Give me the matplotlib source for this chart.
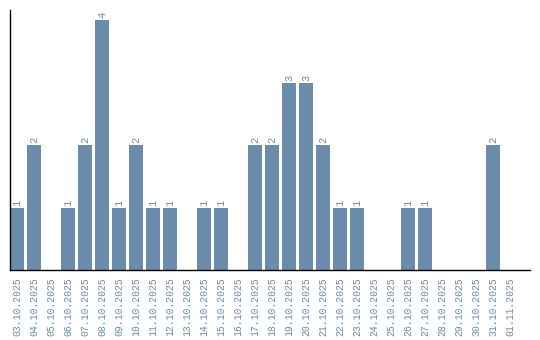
import numpy as np
import matplotlib
matplotlib.use('Agg')
import matplotlib.pyplot as plt

dates = ['03.10.2025', '04.10.2025', '05.10.2025', '06.10.2025', '07.10.2025',
         '08.10.2025', '09.10.2025', '10.10.2025', '11.10.2025', '12.10.2025',
         '13.10.2025', '14.10.2025', '15.10.2025', '16.10.2025', '17.10.2025',
         '18.10.2025', '19.10.2025', '20.10.2025', '21.10.2025', '22.10.2025',
         '23.10.2025', '24.10.2025', '25.10.2025', '26.10.2025', '27.10.2025',
         '28.10.2025', '29.10.2025', '30.10.2025', '31.10.2025', '01.11.2025']
counts = [1, 2, 0, 1, 2, 4, 1, 2, 1, 1,
          0, 1, 1, 0, 2, 2, 3, 3, 2, 1,
          1, 0, 0, 1, 1, 0, 0, 0, 2, 0]

color = '#6b8cab'
plt.rcParams['font.family'] = ['Liberation Mono', 'DejaVu Sans Mono']

fig = plt.figure(figsize=(5.4, 3.4), dpi=100)
ax = fig.add_axes([10 / 540, 1 - 270 / 340, 520 / 540, 260 / 340])

x = np.arange(len(dates))
ax.bar(x, counts, width=0.82, color=color)
for xi, c in zip(x, counts):
    if c > 0:
        ax.text(xi, c + 0.03, str(c), rotation=90, ha='center', va='bottom',
                fontsize=7.5, color=color)

ax.set_xlim(-0.41, 30.18)
ax.set_ylim(0, 4.16)
ax.set_xticks(x)
ax.set_xticklabels(dates, rotation=90, fontsize=7, color=color)
ax.tick_params(axis='x', length=0, pad=5)
ax.set_yticks([])
for s in ['top', 'right']:
    ax.spines[s].set_visible(False)
ax.spines['left'].set_linewidth(1)
ax.spines['bottom'].set_linewidth(1)

fig.savefig('out.png', dpi=100)
